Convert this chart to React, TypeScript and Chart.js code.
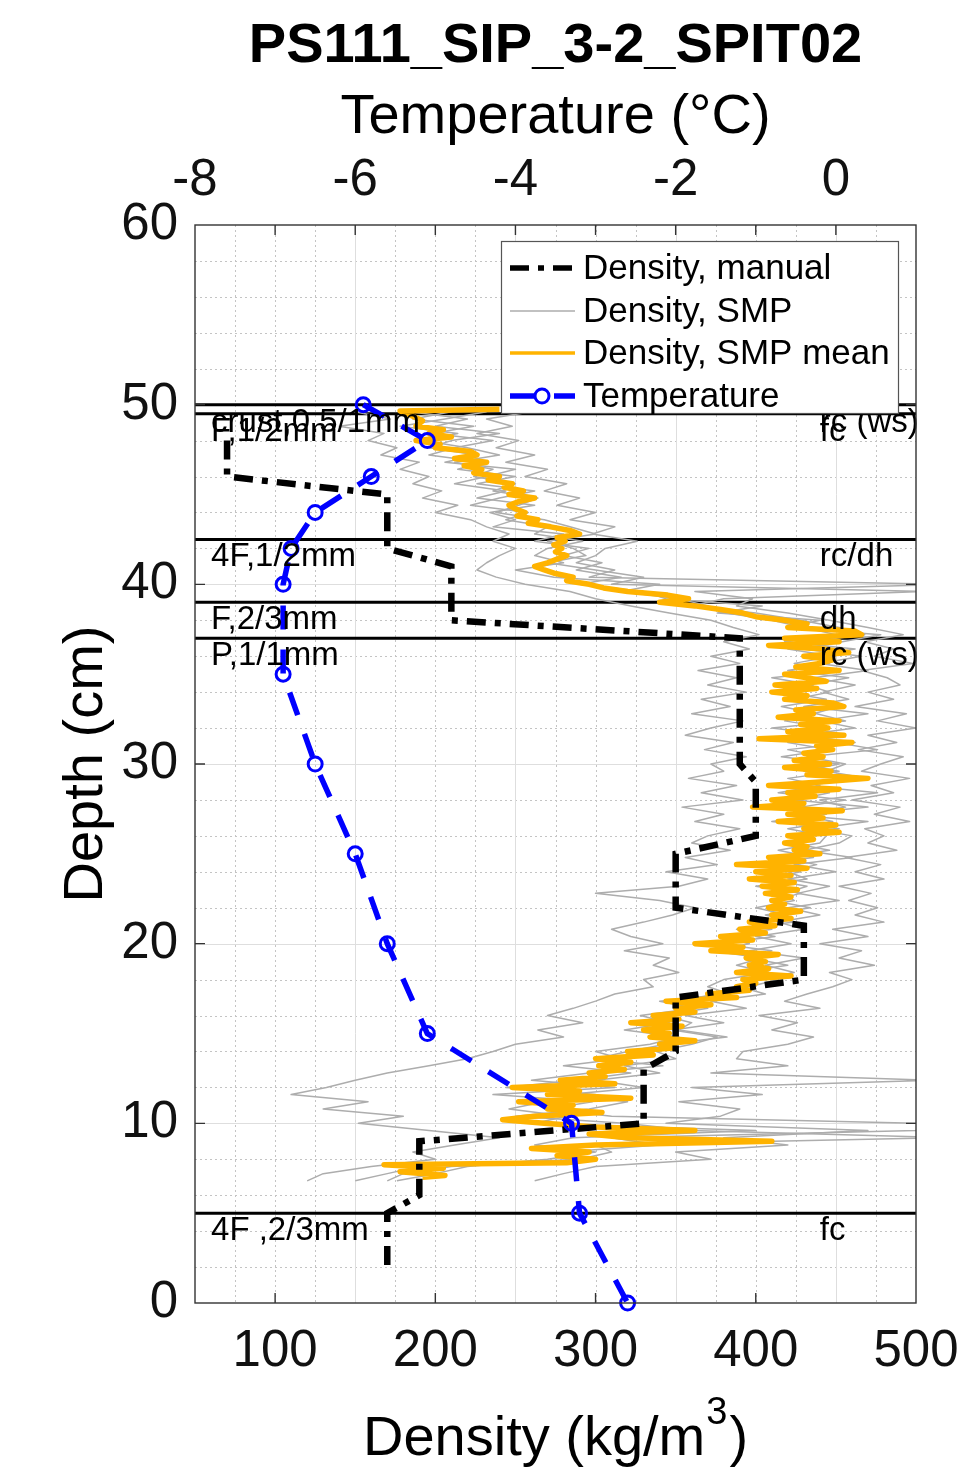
import React, { useEffect, useRef } from "react";
import { Chart, registerables } from "chart.js";

Chart.register(...registerables);

const FONT = '"Liberation Sans", Arial, Helvetica, sans-serif';

const TITLE = "PS111_SIP_3-2_SPIT02";
const TEMP_AXIS_TITLE = "Temperature (°C)";
const DEPTH_AXIS_TITLE = "Depth (cm)";

const DENSITY_TICKS = [100, 200, 300, 400, 500];
const TEMP_TICKS = [-8, -6, -4, -2, 0];
const DEPTH_TICKS = [0, 10, 20, 30, 40, 50, 60];

// Manual density cutter samples (depth in cm, density in kg/m3)
const MANUAL_DEPTH = [48, 46, 45, 42, 41, 38, 37, 30, 29, 26, 25, 22, 21, 18, 17, 14, 13, 10, 9, 6, 5, 2];
const MANUAL_DENSITY = [70, 70, 170, 170, 210, 210, 390, 390, 400, 400, 350, 350, 430, 430, 350, 350, 330, 330, 190, 190, 170, 170];

// Snow temperature profile
const TEMP_DEPTH = [50, 48, 46, 44, 42, 40, 35, 30, 25, 20, 15, 10, 5, 0];
const TEMP_VALUE = [-5.9, -5.1, -5.8, -6.5, -6.8, -6.9, -6.9, -6.5, -6.0, -5.6, -5.1, -3.3, -3.2, -2.6];

// SnowMicroPen density profiles, shared depth grid
const SMP_DEPTH = [
  49.6, 49.2, 48.8, 48.4, 48.0, 47.6, 47.2, 46.8, 46.4, 46.0,
  45.6, 45.2, 44.8, 44.4, 44.0, 43.6, 43.2, 42.8, 42.4, 42.0,
  41.6, 41.2, 40.8, 40.4, 40.0, 39.6, 39.2, 38.8, 38.4, 38.0,
  37.6, 37.2, 36.8, 36.4, 36.0, 35.6, 35.2, 34.8, 34.4, 34.0,
  33.6, 33.2, 32.8, 32.4, 32.0, 31.6, 31.2, 30.8, 30.4, 30.0,
  29.6, 29.2, 28.8, 28.4, 28.0, 27.6, 27.2, 26.8, 26.4, 26.0,
  25.6, 25.2, 24.8, 24.4, 24.0, 23.6, 23.2, 22.8, 22.4, 22.0,
  21.6, 21.2, 20.8, 20.4, 20.0, 19.6, 19.2, 18.8, 18.4, 18.0,
  17.6, 17.2, 16.8, 16.4, 16.0, 15.6, 15.2, 14.8, 14.4, 14.0,
  13.6, 13.2, 12.8, 12.4, 12.0, 11.6, 11.2, 10.8, 10.4, 10.0,
  9.6, 9.2, 8.8, 8.4, 8.0, 7.6, 7.2, 6.8,
];

const SMP_A = [
  260, 232, 248, 226, 252, 238, 262, 244, 270, 256,
  282, 268, 290, 276, 300, 284, 312, 298, 326, 306,
  300, 288, 312, 296, 520, 362, 398, 388, 420, 446,
  470, 492, 468, 486, 474, 498, 466, 482, 490, 470,
  486, 462, 494, 476, 500, 470, 488, 464, 492, 478,
  466, 496, 472, 486, 460, 490, 474, 496, 468, 480,
  470, 488, 456, 478, 462, 480, 452, 472, 458, 476,
  462, 480, 448, 470, 440, 466, 452, 474, 446, 460,
  448, 432, 418, 440, 402, 426, 410, 436, 420, 392,
  388, 420, 372, 510, 360, 404, 352, 390, 378, 344,
  470, 380, 420, 350, 372, 300, 280, 262,
];

const SMP_B = [
  150, 172, 140, 168, 158, 176, 166, 190, 178, 196,
  186, 204, 192, 214, 200, 222, 232, 246, 236, 250,
  240, 232, 226, 238, 256, 284, 300, 322, 346, 372,
  386, 402, 380, 396, 372, 390, 364, 388, 370, 394,
  366, 384, 360, 392, 372, 356, 386, 368, 394, 372,
  380, 358, 388, 366, 392, 354, 380, 362, 390, 370,
  360, 384, 356, 376, 344, 370, 352, 300, 340, 362,
  348, 330, 310, 322, 342, 318, 346, 336, 352, 330,
  336, 312, 300, 286, 270, 292, 264, 280, 250, 236,
  220, 196, 170, 150, 132, 110, 158, 130, 180, 152,
  196, 240, 212, 186, 200, 160, 130, 120,
];

const SMP_C = [
  210, 186, 224, 198, 236, 212, 196, 230, 214, 250,
  226, 262, 240, 222, 258, 244, 270, 262, 292, 270,
  262, 280, 250, 274, 340, 316, 352, 370, 382, 410,
  430, 450, 418, 462, 436, 446, 420, 458, 432, 446,
  424, 452, 436, 418, 446, 430, 462, 420, 442, 428,
  452, 420, 440, 414, 456, 428, 444, 410, 452, 436,
  422, 446, 414, 438, 420, 432, 400, 428, 410, 434,
  406, 424, 388, 412, 376, 410, 396, 420, 388, 414,
  396, 376, 350, 370, 342, 360, 352, 382, 344, 320,
  300, 342, 296, 260, 312, 236, 298, 270, 310, 505,
  500, 310, 340, 280, 296, 210, 180, 170,
];

const SMP_D = [
  232, 206, 178, 214, 192, 220, 240, 212, 236, 224,
  250, 236, 264, 252, 238, 268, 284, 300, 270, 286,
  294, 270, 300, 330, 310, 505, 380, 360, 400, 428,
  452, 468, 432, 420, 448, 424, 452, 410, 436, 418,
  444, 416, 438, 456, 410, 448, 420, 446, 416, 452,
  430, 462, 418, 446, 424, 470, 426, 448, 420, 444,
  440, 414, 436, 400, 428, 406, 432, 418, 424, 400,
  420, 398, 410, 380, 396, 372, 404, 388, 408, 380,
  370, 384, 340, 362, 328, 346, 318, 352, 334, 300,
  316, 280, 322, 288, 244, 300, 268, 246, 282, 262,
  400, 286, 262, 300, 270, 220, 200, 176,
];

const SMP_E = [
  184, 220, 200, 240, 210, 196, 226, 206, 250, 232,
  212, 244, 226, 262, 234, 250, 236, 280, 262, 296,
  280, 304, 288, 316, 290, 330, 344, 404, 376, 440,
  420, 478, 454, 430, 466, 440, 470, 436, 462, 442,
  458, 430, 470, 440, 462, 428, 450, 476, 432, 456,
  444, 470, 430, 476, 440, 456, 420, 470, 436, 460,
  452, 430, 460, 424, 450, 420, 446, 426, 452, 420,
  440, 414, 430, 400, 422, 396, 430, 406, 424, 402,
  390, 406, 372, 394, 356, 380, 348, 376, 360, 338,
  350, 318, 340, 300, 330, 282, 320, 296, 250, 318,
  360, 520, 300, 310, 290, 190, 170, 150,
];

const SMP_PROFILES = [SMP_A, SMP_B, SMP_C, SMP_D, SMP_E];

// Mean SMP density profile
const MEAN_DEPTH = [
  49.75, 49.65, 49.4, 49.1, 48.8, 48.6, 48.4, 48.2, 48.0, 47.8,
  47.6, 47.4, 47.2, 47.0, 46.8, 46.6, 46.4, 46.2, 46.0, 45.8,
  45.6, 45.4, 45.2, 45.0, 44.8, 44.6, 44.4, 44.2, 44.0, 43.8,
  43.6, 43.4, 43.2, 43.0, 42.8, 42.6, 42.4, 42.2, 42.0, 41.8,
  41.6, 41.4, 41.2, 41.0, 40.8, 40.6, 40.4, 40.2, 40.0, 39.8,
  39.6, 39.4, 39.2, 39.0, 38.8, 38.6, 38.4, 38.2, 38.0, 37.8,
  37.6, 37.4, 37.2, 37.0, 36.8, 36.6, 36.4, 36.2, 36.0, 35.8,
  35.6, 35.4, 35.2, 35.0, 34.8, 34.6, 34.4, 34.2, 34.0, 33.8,
  33.6, 33.4, 33.2, 33.0, 32.8, 32.6, 32.4, 32.2, 32.0, 31.8,
  31.6, 31.4, 31.2, 31.0, 30.8, 30.6, 30.4, 30.2, 30.0, 29.8,
  29.6, 29.4, 29.2, 29.0, 28.8, 28.6, 28.4, 28.2, 28.0, 27.8,
  27.6, 27.4, 27.2, 27.0, 26.8, 26.6, 26.4, 26.2, 26.0, 25.8,
  25.6, 25.4, 25.2, 25.0, 24.8, 24.6, 24.4, 24.2, 24.0, 23.8,
  23.6, 23.4, 23.2, 23.0, 22.8, 22.6, 22.4, 22.2, 22.0, 21.8,
  21.6, 21.4, 21.2, 21.0, 20.8, 20.6, 20.4, 20.2, 20.0, 19.8,
  19.6, 19.4, 19.2, 19.0, 18.8, 18.6, 18.4, 18.2, 18.0, 17.8,
  17.6, 17.4, 17.2, 17.0, 16.8, 16.6, 16.4, 16.2, 16.0, 15.8,
  15.6, 15.4, 15.2, 15.0, 14.8, 14.6, 14.4, 14.2, 14.0, 13.8,
  13.6, 13.4, 13.2, 13.0, 12.8, 12.6, 12.4, 12.2, 12.0, 11.8,
  11.6, 11.4, 11.2, 11.0, 10.8, 10.6, 10.4, 10.2, 10.0, 9.8,
  9.6, 9.4, 9.2, 9.0, 8.8, 8.6, 8.4, 8.2, 8.0, 7.8,
  7.7, 7.5, 7.3, 7.1, 7.0,
];

const MEAN_DENSITY = [
  240, 178, 185, 192, 188, 205, 196, 210, 188, 203,
  200, 222, 226, 212, 232, 218, 229, 224, 240, 233,
  248, 243, 255, 246, 262, 252, 246, 250, 256, 251,
  264, 258, 272, 284, 290, 276, 281, 274, 279, 275,
  282, 276, 270, 262, 268, 275, 286, 282, 296, 305,
  320, 345, 358, 340, 362, 378, 392, 400, 418, 432,
  420, 462, 466, 418, 452, 408, 442, 458, 430, 448,
  440, 425, 452, 418, 432, 444, 412, 438, 410, 432,
  418, 448, 455, 425, 436, 414, 452, 428, 445, 420,
  455, 402, 460, 438, 448, 430, 442, 424, 446, 418,
  447, 432, 470, 440, 408, 452, 420, 437, 410, 430,
  398, 454, 420, 442, 414, 450, 430, 452, 420, 436,
  418, 432, 424, 440, 408, 430, 388, 432, 400, 422,
  396, 424, 404, 426, 406, 422, 410, 418, 408, 428,
  410, 422, 396, 412, 390, 406, 378, 398, 362, 392,
  372, 414, 394, 406, 396, 408, 388, 422, 392, 400,
  388, 396, 370, 388, 344, 372, 350, 362, 336, 352,
  322, 354, 330, 346, 334, 362, 340, 350, 320, 336,
  300, 322, 302, 318, 296, 306, 278, 312, 248, 290,
  270, 322, 252, 286, 270, 304, 262, 242, 268, 300,
  362, 296, 320, 410, 300, 260, 296, 276, 300, 282,
  168, 205, 178, 206, 192,
];

// Stratigraphy: layer tops (cm), grain form / size, hardness notes
const LAYER_TOP = [50, 49.5, 42.5, 39, 37, 5];
const LAYER_LEFT_TEXT = ["crust,0.5/1mm", "F,1/2mm", "4F,1/2mm", "F,2/3mm", "P,1/1mm", "4F ,2/3mm"];
const LAYER_RIGHT_TEXT = ["rc (ws)", "fc", "rc/dh", "dh", "rc (ws)", "fc"];

const STYLE = {
  manual: { color: "#000000", width: 6.5, dash: [19, 9, 6, 9] },
  smp: { color: "#adadad", width: 1.5 },
  mean: { color: "#ffb300", width: 5.5 },
  temp: { color: "#0000ff", width: 5.5, dash: [24, 20] },
};

const LEGEND_ITEMS = [
  { key: "manual", label: "Density, manual" },
  { key: "smp", label: "Density, SMP" },
  { key: "mean", label: "Density, SMP mean" },
  { key: "temp", label: "Temperature" },
];

function pairs(xs: number[], ys: number[]) {
  return xs.map((x, i) => ({ x, y: ys[i] }));
}

const decorPlugin = {
  id: "profileDecor",
  beforeDatasetsDraw(chart: any) {
    const { ctx, chartArea: a, scales } = chart;
    const tx = scales.x2;
    const y = scales.y;
    ctx.save();
    ctx.lineWidth = 1;
    // minor dotted grid
    ctx.strokeStyle = "#c4c4c4";
    ctx.setLineDash([2, 3]);
    for (let k = -15; k <= 2; k++) {
      if (k % 4 === 0) continue;
      const px = Math.round(tx.getPixelForValue(k / 2)) + 0.5;
      if (px <= a.left + 1 || px >= a.right - 1) continue;
      ctx.beginPath();
      ctx.moveTo(px, a.top);
      ctx.lineTo(px, a.bottom);
      ctx.stroke();
    }
    for (let d = 2; d < 60; d += 2) {
      if (d % 10 === 0) continue;
      const py = Math.round(y.getPixelForValue(d)) + 0.5;
      ctx.beginPath();
      ctx.moveTo(a.left, py);
      ctx.lineTo(a.right, py);
      ctx.stroke();
    }
    // major solid grid
    ctx.setLineDash([]);
    ctx.strokeStyle = "#dedede";
    for (const t of TEMP_TICKS) {
      const px = Math.round(tx.getPixelForValue(t)) + 0.5;
      if (px <= a.left + 1) continue;
      ctx.beginPath();
      ctx.moveTo(px, a.top);
      ctx.lineTo(px, a.bottom);
      ctx.stroke();
    }
    for (const d of DEPTH_TICKS) {
      if (d === 0 || d === 60) continue;
      const py = Math.round(y.getPixelForValue(d)) + 0.5;
      ctx.beginPath();
      ctx.moveTo(a.left, py);
      ctx.lineTo(a.right, py);
      ctx.stroke();
    }
    // layer boundaries
    ctx.strokeStyle = "#000";
    ctx.lineWidth = 3;
    for (const d of LAYER_TOP) {
      const py = y.getPixelForValue(d);
      ctx.beginPath();
      ctx.moveTo(a.left, py);
      ctx.lineTo(a.right, py);
      ctx.stroke();
    }
    ctx.restore();
  },
  afterDatasetsDraw(chart: any) {
    const { ctx, chartArea: a, scales } = chart;
    const x = scales.x;
    const tx = scales.x2;
    const y = scales.y;
    ctx.save();

    // layer annotations
    ctx.fillStyle = "#000";
    ctx.font = `33px ${FONT}`;
    ctx.textBaseline = "middle";
    ctx.textAlign = "left";
    LAYER_TOP.forEach((d, i) => {
      const py = y.getPixelForValue(d - 1);
      ctx.fillText(LAYER_LEFT_TEXT[i], x.getPixelForValue(60), py);
      ctx.fillText(LAYER_RIGHT_TEXT[i], x.getPixelForValue(440), py);
    });

    // axes box and inward ticks
    ctx.strokeStyle = "#333";
    ctx.lineWidth = 1.4;
    ctx.strokeRect(a.left, a.top, a.right - a.left, a.bottom - a.top);
    const tl = 10;
    ctx.beginPath();
    for (const v of DENSITY_TICKS) {
      const px = x.getPixelForValue(v);
      if (px >= a.right - 1) continue;
      ctx.moveTo(px, a.bottom);
      ctx.lineTo(px, a.bottom - tl);
      ctx.moveTo(px, a.top);
      ctx.lineTo(px, a.top + tl);
    }
    for (const t of TEMP_TICKS) {
      const px = tx.getPixelForValue(t);
      if (px <= a.left + 1) continue;
      ctx.moveTo(px, a.top);
      ctx.lineTo(px, a.top + tl);
    }
    for (const d of DEPTH_TICKS) {
      if (d === 0 || d === 60) continue;
      const py = y.getPixelForValue(d);
      ctx.moveTo(a.left, py);
      ctx.lineTo(a.left + tl, py);
      ctx.moveTo(a.right, py);
      ctx.lineTo(a.right - tl, py);
    }
    ctx.stroke();

    // legend
    const lx = a.right - 415;
    const ly = a.top + 16;
    const lw = 397;
    const lh = 172;
    ctx.fillStyle = "#fff";
    ctx.fillRect(lx, ly, lw, lh);
    ctx.strokeStyle = "#555";
    ctx.lineWidth = 1.2;
    ctx.strokeRect(lx + 0.5, ly + 0.5, lw, lh);
    const rows = [27, 70, 112, 155];
    LEGEND_ITEMS.forEach((item, i) => {
      const st: any = (STYLE as any)[item.key];
      const ry = ly + rows[i];
      ctx.save();
      ctx.strokeStyle = st.color;
      ctx.lineWidth = item.key === "mean" ? 3.5 : item.key === "manual" ? 5.5 : st.width;
      ctx.setLineDash(st.dash || []);
      ctx.beginPath();
      ctx.moveTo(lx + 9, ry);
      ctx.lineTo(lx + 74, ry);
      ctx.stroke();
      if (item.key === "temp") {
        ctx.setLineDash([]);
        ctx.lineWidth = 3;
        ctx.fillStyle = "#fff";
        ctx.beginPath();
        ctx.arc(lx + 41, ry, 7, 0, Math.PI * 2);
        ctx.fill();
        ctx.stroke();
      }
      ctx.restore();
      ctx.fillStyle = "#000";
      ctx.font = `35px ${FONT}`;
      ctx.textAlign = "left";
      ctx.textBaseline = "middle";
      ctx.fillText(item.label, lx + 82, ry + 1);
    });
    ctx.restore();
  },
  afterDraw(chart: any) {
    const { ctx, chartArea: a } = chart;
    const cx = (a.left + a.right) / 2;
    ctx.save();
    ctx.fillStyle = "#000";
    ctx.textAlign = "center";
    ctx.textBaseline = "alphabetic";
    ctx.font = `bold 56px ${FONT}`;
    ctx.fillText(TITLE, cx, 62);
    ctx.font = `56px ${FONT}`;
    ctx.fillText(TEMP_AXIS_TITLE, cx, 133);

    // density axis title with superscript exponent
    const base = "Density (kg/m";
    const sup = "3";
    const close = ")";
    ctx.font = `56px ${FONT}`;
    const w1 = ctx.measureText(base).width;
    const w3 = ctx.measureText(close).width;
    ctx.font = `38px ${FONT}`;
    const w2 = ctx.measureText(sup).width;
    const start = cx - (w1 + w2 + w3 + 3) / 2;
    ctx.textAlign = "left";
    ctx.font = `56px ${FONT}`;
    ctx.fillText(base, start, 1455);
    ctx.font = `38px ${FONT}`;
    ctx.fillText(sup, start + w1 + 1, 1424);
    ctx.font = `56px ${FONT}`;
    ctx.fillText(close, start + w1 + w2 + 3, 1455);

    ctx.save();
    ctx.translate(102, (a.top + a.bottom) / 2);
    ctx.rotate(-Math.PI / 2);
    ctx.textAlign = "center";
    ctx.fillText(DEPTH_AXIS_TITLE, 0, 0);
    ctx.restore();
    ctx.restore();
  },
};

function tickSetter(values: number[]) {
  return (scale: any) => {
    scale.ticks = values.map((v) => ({ value: v }));
  };
}

const tickFont = { family: FONT, size: 51 };

export default function App() {
  const ref = useRef<HTMLCanvasElement | null>(null);

  useEffect(() => {
    const canvas = ref.current;
    if (!canvas) return;

    const datasets: any[] = [
      {
        label: "Temperature",
        xAxisID: "x2",
        yAxisID: "y",
        data: pairs(TEMP_VALUE, TEMP_DEPTH),
        borderColor: STYLE.temp.color,
        borderWidth: STYLE.temp.width,
        borderDash: STYLE.temp.dash,
        pointRadius: 7,
        pointBorderWidth: 3,
        pointBorderColor: STYLE.temp.color,
        pointBackgroundColor: "rgba(0,0,0,0)",
        clip: false,
      },
      {
        label: "Density, manual",
        xAxisID: "x",
        yAxisID: "y",
        data: pairs(MANUAL_DENSITY, MANUAL_DEPTH),
        borderColor: STYLE.manual.color,
        borderWidth: STYLE.manual.width,
        borderDash: STYLE.manual.dash,
        pointRadius: 0,
      },
      {
        label: "Density, SMP mean",
        xAxisID: "x",
        yAxisID: "y",
        data: pairs(MEAN_DENSITY, MEAN_DEPTH),
        borderColor: STYLE.mean.color,
        borderWidth: STYLE.mean.width,
        borderJoinStyle: "round",
        pointRadius: 0,
      },
      ...SMP_PROFILES.map((p, i) => ({
        label: i === 0 ? "Density, SMP" : "",
        xAxisID: "x",
        yAxisID: "y",
        data: pairs(p, SMP_DEPTH),
        borderColor: STYLE.smp.color,
        borderWidth: STYLE.smp.width,
        borderJoinStyle: "round",
        pointRadius: 0,
      })),
    ];

    const fitX = (h: number) => (s: any) => {
      s.height = h;
      s.paddingLeft = 0;
      s.paddingRight = 0;
    };

    const chart = new Chart(canvas, {
      type: "line",
      data: { datasets },
      options: {
        responsive: false,
        animation: false,
        devicePixelRatio: 1,
        events: [],
        layout: { padding: { left: 0, right: 58, top: 0, bottom: 0 } },
        elements: { line: { tension: 0 } },
        plugins: {
          legend: { display: false },
          tooltip: { enabled: false },
          title: { display: false },
        },
        scales: {
          x: {
            type: "linear",
            position: "bottom",
            min: 50,
            max: 500,
            afterBuildTicks: tickSetter(DENSITY_TICKS),
            afterFit: fitX(164),
            grid: { display: false, drawTicks: false },
            border: { display: false },
            ticks: {
              font: tickFont,
              color: "#111",
              padding: 18,
              autoSkip: false,
              maxRotation: 0,
              minRotation: 0,
              callback: (v: any) => String(v),
            },
          },
          x2: {
            type: "linear",
            position: "top",
            min: -8,
            max: 1,
            afterBuildTicks: tickSetter(TEMP_TICKS),
            afterFit: fitX(225),
            grid: { display: false, drawTicks: false },
            border: { display: false },
            ticks: {
              font: tickFont,
              color: "#111",
              padding: 13,
              autoSkip: false,
              maxRotation: 0,
              minRotation: 0,
              callback: (v: any) => String(v),
            },
          },
          y: {
            type: "linear",
            position: "left",
            min: 0,
            max: 60,
            afterBuildTicks: tickSetter(DEPTH_TICKS),
            afterFit: (s: any) => {
              s.width = 195;
              s.paddingTop = 0;
              s.paddingBottom = 0;
            },
            grid: { display: false, drawTicks: false },
            border: { display: false },
            ticks: {
              font: tickFont,
              color: "#111",
              padding: 17,
              autoSkip: false,
              callback: (v: any) => String(v),
            },
          },
        },
      },
      plugins: [decorPlugin],
    } as any);

    return () => chart.destroy();
  }, []);

  return (
    <div style={{ position: "absolute", left: 0, top: 0, width: 974, height: 1467, background: "#fff" }}>
      <canvas ref={ref} width={974} height={1467} style={{ display: "block", width: 974, height: 1467 }} />
    </div>
  );
}
